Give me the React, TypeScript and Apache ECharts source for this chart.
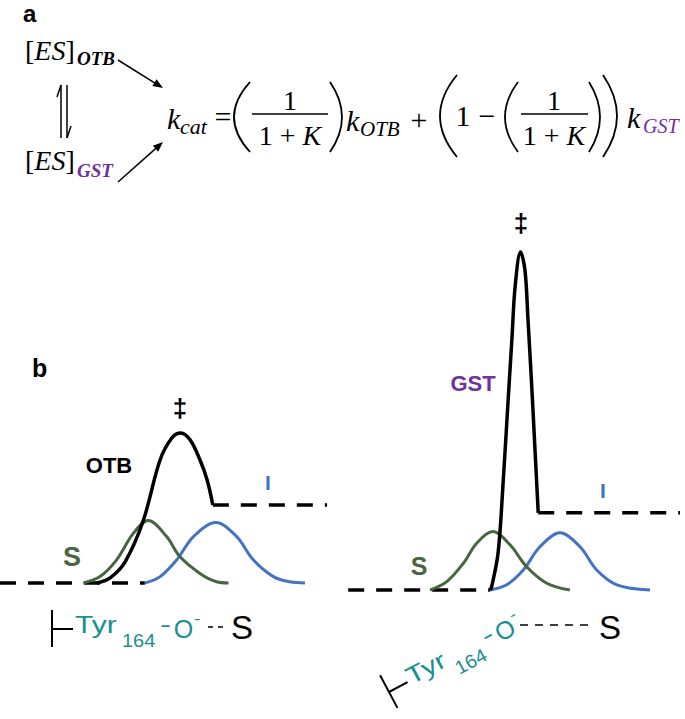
import React, { useEffect, useRef } from "react";
import * as echarts from "echarts";

// ---------- data (reaction coordinate, relative free energy) ----------
// Panel b, left: OTB pathway
const leftBaseline: number[][] = [[0, 0], [42.6, 0]];
const leftOTB: number[][] = [
  [28.5, 0], [32.4, 1.3], [36.8, 5.3], [42.1, 15.5], [47.1, 30.8],
  [50.6, 36.3], [53.2, 37.5], [55.9, 35.8], [58.8, 30.8], [60.9, 25.8], [62.6, 19.5],
];
const leftILevel: number[][] = [[62.6, 19.5], [96.2, 19.5]];
const leftS: number[][] = [
  [24.5, 0], [29.4, 1.6], [34.3, 5.8], [39.2, 12.4], [43.6, 15.6],
  [49.0, 11.6], [52.9, 6.6], [58.8, 2.4], [63.7, 0.3], [67.2, 0],
];
const leftI: number[][] = [
  [42.6, 0], [47.1, 1.6], [52.0, 5.8], [56.9, 11.6], [63.5, 15.1],
  [69.6, 11.6], [74.5, 5.8], [80.4, 1.6], [85.3, 0.3], [89.7, 0],
];
// Panel b, right: GST pathway
const rightBaseline: number[][] = [[2.4, 0], [44.1, 0]];
const rightGST: number[][] = [
  [44.1, 0], [44.6, 0.8], [46.5, 9.3], [47.9, 25.8], [49.4, 46.8], [50.6, 63.3],
  [51.5, 75.8], [53.1, 84.5], [54.4, 80.0], [55.3, 67.5], [56.4, 50.8], [57.4, 34.3], [58.3, 19.3],
];
const rightILevel: number[][] = [[58.3, 19.3], [100, 19.3]];
const rightS: number[][] = [
  [26.5, 0], [31.4, 2.1], [36.3, 6.7], [40.2, 11.7], [44.9, 14.6],
  [50.0, 11.3], [54.9, 5.8], [60.8, 1.7], [67.6, 0],
];
const rightI: number[][] = [
  [44.1, 0], [49.0, 1.3], [53.9, 5.0], [58.8, 10.8], [64.7, 14.3],
  [70.6, 10.8], [75.5, 5.0], [81.4, 1.3], [91.2, 0],
];

// ---------- styles ----------
const BLACK = "#000000";
const GREEN = "#46663f";
const BLUE = "#4472c4";
const TEAL = "#1a8f8f";
const PURPLE = "#7030a0";
const SERIF = "'Liberation Serif', 'Times New Roman', serif";
const SANS = "'Liberation Sans', Arial, sans-serif";
const DASH = [16, 12];

function txt(x: number, y: number, text: string, o: any = {}) {
  return {
    type: "text",
    x,
    y,
    scaleX: o.scaleX ?? 1,
    silent: true,
    style: {
      text,
      fontSize: o.size ?? 20,
      fontFamily: o.family ?? SANS,
      fontWeight: o.weight ?? "normal",
      fontStyle: o.style ?? "normal",
      fill: o.color ?? BLACK,
      align: o.align ?? "left",
      verticalAlign: "middle",
    },
  };
}
// serif text placed by its alphabetic baseline
function eq(x: number, base: number, text: string, size: number, o: any = {}) {
  return txt(x, base - 0.34 * size, text, { family: SERIF, size, ...o });
}
// "1 + K" with italic K, centred, placed by baseline
function onePlusK(cx: number, base: number, size: number) {
  return {
    type: "text", x: cx, y: base - 0.34 * size, silent: true,
    style: {
      text: "{n|1 + }{i|K}", align: "center", verticalAlign: "middle",
      rich: {
        n: { fontFamily: SERIF, fontSize: size, fill: BLACK },
        i: { fontFamily: SERIF, fontSize: size, fontStyle: "italic", fill: BLACK },
      },
    },
  };
}
function esText(x: number, base: number) {
  return {
    type: "text", x, y: base - 0.34 * 28, silent: true,
    style: {
      text: "{u|[}{i|ES}{u|]}", verticalAlign: "middle", align: "left",
      rich: {
        u: { fontFamily: SERIF, fontSize: 28, fill: BLACK },
        i: { fontFamily: SERIF, fontSize: 28, fontStyle: "italic", fill: BLACK },
      },
    },
  };
}
function ln(x1: number, y1: number, x2: number, y2: number, w = 1.5, color = BLACK, dash?: number[]) {
  return {
    type: "line",
    silent: true,
    shape: { x1, y1, x2, y2 },
    style: { stroke: color, lineWidth: w, lineDash: dash, lineCap: "butt" },
  };
}
function paren(xTop: number, yTop: number, yBot: number, xExt: number, w = 1.8) {
  const cx = 2 * xExt - xTop;
  return {
    type: "bezierCurve",
    silent: true,
    shape: { x1: xTop, y1: yTop, x2: xTop, y2: yBot, cpx1: cx, cpy1: (yTop + yBot) / 2 },
    style: { stroke: BLACK, lineWidth: w, fill: null },
  };
}
function arrow(x1: number, y1: number, x2: number, y2: number) {
  const dx = x2 - x1, dy = y2 - y1;
  const n = Math.hypot(dx, dy);
  const ux = dx / n, uy = dy / n;
  const bx = x2 - ux * 10, by = y2 - uy * 10;
  return [
    ln(x1, y1, bx + ux * 2, by + uy * 2, 1.5),
    {
      type: "polygon",
      silent: true,
      shape: { points: [[x2, y2], [bx - uy * 4, by + ux * 4], [bx + uy * 4, by - ux * 4]] },
      style: { fill: BLACK },
    },
  ];
}
function tyrLabel(withTail: boolean) {
  const kids: any[] = [
    ln(0, -19, 0, 18, 2),
    ln(0, 0, 21, 0, 2),
    txt(23, -4, "Tyr", { size: 24, color: TEAL, scaleX: 1.25 }),
    txt(70, 11, "164", { size: 19, color: TEAL, scaleX: 1.05 }),
    txt(108, -4, "-", { size: 22, color: TEAL, scaleX: 1.5 }),
    txt(131.5, -0.5, "O", { size: 25, color: TEAL, align: "center" }),
    txt(142, -10.5, "-", { size: 15, color: TEAL, scaleX: 1.3 }),
  ];
  if (withTail) {
    kids.push(ln(156, -2, 172, -2, 1.6, BLACK, [5, 5]));
    kids.push(txt(190, -2, "S", { size: 33, align: "center" }));
  }
  return kids;
}

function lineSeries(data: number[][], idx: number, color: string, width: number, dashed = false, z = 2) {
  return {
    type: "line",
    data,
    xAxisIndex: idx,
    yAxisIndex: idx,
    symbol: "none",
    smooth: dashed ? false : 0.35,
    silent: true,
    clip: false,
    z,
    lineStyle: { color, width, type: dashed ? DASH : "solid", cap: "butt", join: "round" },
  };
}

export default function App() {
  const ref = useRef<HTMLDivElement>(null);
  useEffect(() => {
    document.body.style.margin = "0";
    const chart = echarts.init(ref.current!, null, { renderer: "svg" });
    const graphic: any[] = [
      // panel a
      txt(23, 13, "a", { size: 24, weight: "bold" }),
      esText(25, 60),
      eq(77, 65, "OTB", 19, { style: "italic", weight: "bold" }),
      esText(25, 170),
      eq(77, 177, "GST", 19, { style: "italic", weight: "bold", color: PURPLE }),
      ln(61, 138, 61, 85, 1.5), ln(61, 85, 57, 97, 1.5),
      ln(67, 85, 67, 138, 1.5), ln(67, 138, 71, 126, 1.5),
      ...arrow(118, 60, 163, 88),
      ...arrow(118, 182, 163, 142),
      eq(167, 129, "k", 30, { style: "italic" }),
      eq(180, 134, "cat", 22, { style: "italic" }),
      eq(223, 127, "=", 30, { align: "center" }),
      paren(250, 82, 152, 234),
      ln(252, 114, 328, 114, 1.5),
      eq(290, 110, "1", 28, { align: "center" }),
      onePlusK(290, 145, 28),
      paren(330, 82, 152, 342),
      eq(346, 131, "k", 30, { style: "italic" }),
      eq(360, 136, "OTB", 21, { style: "italic" }),
      eq(419, 130, "+", 30, { align: "center" }),
      paren(457, 75, 157, 440),
      eq(463, 126, "1", 30, { align: "center" }),
      eq(487, 126, "\u2212", 30, { align: "center" }),
      paren(518, 82, 152, 505),
      ln(521, 114, 588, 114, 1.5),
      eq(554, 110, "1", 28, { align: "center" }),
      onePlusK(554, 145, 28),
      paren(589, 82, 152, 600),
      paren(603, 75, 157, 617),
      eq(627, 128, "k", 30, { style: "italic" }),
      eq(643, 133, "GST", 20, { style: "italic", color: PURPLE }),
      // panel b
      txt(32, 368, "b", { size: 25, weight: "bold" }),
      txt(180, 408, "\u2021", { size: 26, weight: "bold", align: "center" }),
      txt(521, 223, "\u2021", { size: 26, weight: "bold", align: "center" }),
      txt(109, 465, "OTB", { size: 22, weight: "bold", align: "center" }),
      txt(473, 383, "GST", { size: 22, weight: "bold", align: "center", color: PURPLE }),
      txt(268, 482, "I", { size: 21, weight: "bold", align: "center", color: BLUE }),
      txt(603, 490, "I", { size: 21, weight: "bold", align: "center", color: BLUE }),
      txt(72, 557, "S", { size: 27, weight: "bold", align: "center", color: GREEN }),
      txt(419, 566, "S", { size: 25, weight: "bold", align: "center", color: GREEN }),
      { type: "group", x: 52, y: 629, children: tyrLabel(true) },
      { type: "group", x: 389, y: 692, rotation: (28 * Math.PI) / 180, children: tyrLabel(false) },
      ln(520, 625, 593, 625, 1.6, BLACK, [8, 7]),
      txt(610, 627, "S", { size: 33, align: "center" }),
    ];

    const axisX = (i: number) => ({ type: "value", gridIndex: i, min: 0, max: 100, show: false });
    const option: any = {
      animation: false,
      backgroundColor: "#ffffff",
      grid: [
        { left: 0, top: 183, width: 340, height: 400 },
        { left: 340, top: 190, width: 340, height: 400 },
      ],
      xAxis: [axisX(0), axisX(1)],
      yAxis: [axisX(0), axisX(1)],
      series: [
        lineSeries(leftBaseline, 0, BLACK, 3.5, true),
        lineSeries(leftILevel, 0, BLACK, 3.5, true),
        lineSeries(leftI, 0, BLUE, 3, false, 2),
        lineSeries(leftS, 0, GREEN, 3, false, 3),
        lineSeries(leftOTB, 0, BLACK, 3.5, false, 4),
        lineSeries(rightBaseline, 1, BLACK, 3.5, true),
        lineSeries(rightILevel, 1, BLACK, 3.5, true),
        lineSeries(rightI, 1, BLUE, 3, false, 2),
        lineSeries(rightS, 1, GREEN, 3, false, 3),
        lineSeries(rightGST, 1, BLACK, 3.5, false, 4),
      ],
      graphic,
    };
    chart.setOption(option);
    return () => chart.dispose();
  }, []);
  return (
    <div
      ref={ref}
      style={{ position: "fixed", left: 0, top: 0, width: 685, height: 719, background: "#fff" }}
    />
  );
}
